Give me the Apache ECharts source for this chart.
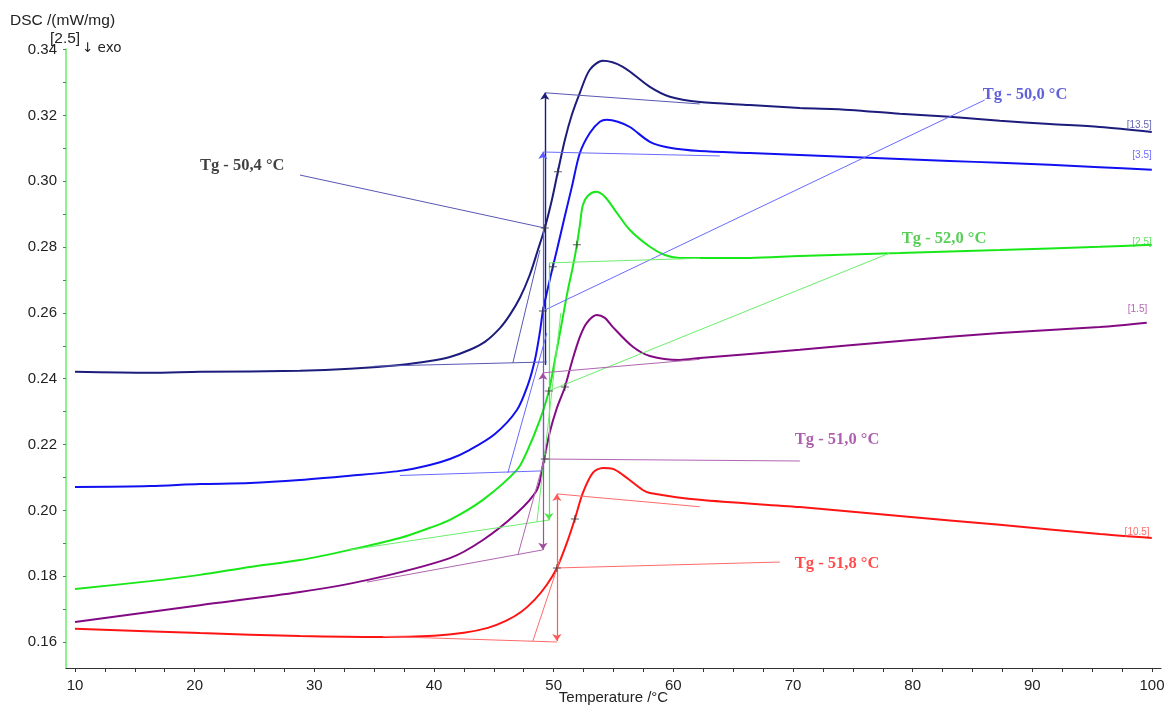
<!DOCTYPE html>
<html><head><meta charset="utf-8">
<script src="https://cdn.jsdelivr.net/npm/echarts@6/dist/echarts.min.js"></script>
<style>html,body{margin:0;padding:0;background:#fff}#c{width:1171px;height:708px}</style>
</head><body><div id="c"></div>
<script>
// ---------- axis ticks ----------
const xLabelValues = [10,20,30,40,50,60,70,80,90,100];
const xTickValues = [10,12.5,15,17.5,20,22.5,25,27.5,30,32.5,35,37.5,40,42.5,45,47.5,50,52.5,55,57.5,60,62.5,65,67.5,70,72.5,75,77.5,80,82.5,85,87.5,90,92.5,95,97.5,100];
const yLabelValues = [0.16,0.18,0.20,0.22,0.24,0.26,0.28,0.30,0.32,0.34];
const yTickValues = [0.16,0.17,0.18,0.19,0.20,0.21,0.22,0.23,0.24,0.25,0.26,0.27,0.28,0.29,0.30,0.31,0.32,0.33,0.34];

// ---------- curves (Temperature °C, DSC mW/mg) ----------
const sampleNames = ['[13.5]','[3.5]','[2.5]','[1.5]','[10.5]'];
const tNavy = [10,16.27,20.44,28.8,32.97,37.15,39.66,41.33,43,44.25,45.51,46.34,47.18,48.01,48.68,49.26,49.85,50.35,50.94,51.52,52.19,53.02,54.11,55.78,58.04,59.71,62.21,66.39,70.57,74.75,78.92,83.1,87.28,91.45,95.63,99.98];
const vNavy = [0.2421,0.2418,0.2421,0.2424,0.2430,0.2442,0.2454,0.2466,0.2488,0.2512,0.2554,0.2594,0.2646,0.2716,0.2791,0.2858,0.2943,0.3029,0.3126,0.3202,0.3269,0.3339,0.3366,0.3348,0.3287,0.3257,0.3241,0.3232,0.3223,0.3217,0.3205,0.3196,0.3184,0.3174,0.3165,0.3150];
const tBlue = [10,16.27,20.44,24.62,28.8,32.97,37.15,39.66,41.33,43,45.09,46.93,47.84,48.43,48.85,49.1,49.52,49.93,50.27,50.94,51.52,52.19,53.02,53.86,54.44,55.36,56.37,58.04,59.71,62.21,66.39,70.57,74.75,78.92,83.1,87.28,91.45,95.63,99.98];
const vBlue = [0.2071,0.2074,0.2080,0.2083,0.2092,0.2105,0.2120,0.2138,0.2156,0.2184,0.2232,0.2305,0.2381,0.2457,0.2542,0.2606,0.2676,0.2740,0.2791,0.2895,0.2983,0.3086,0.3147,0.3181,0.3187,0.3181,0.3165,0.3120,0.3102,0.3092,0.3086,0.3080,0.3074,0.3068,0.3062,0.3056,0.3050,0.3043,0.3035];
const tGreen = [10,16.27,20.44,24.62,28.8,32.97,37.15,39.66,41.33,44.09,46.93,47.76,48.85,49.6,50.18,50.77,51.19,51.6,51.94,52.19,52.44,52.86,53.53,54.28,55.28,56.37,58.04,59.29,60.54,62.21,66.39,70.57,78.92,87.28,95.63,99.98];
const vGreen = [0.1761,0.1785,0.1804,0.1828,0.1849,0.1880,0.1916,0.1947,0.1971,0.2032,0.2123,0.2178,0.2275,0.2363,0.2472,0.2588,0.2670,0.2740,0.2807,0.2867,0.2928,0.2956,0.2968,0.2953,0.2904,0.2852,0.2801,0.2776,0.2767,0.2767,0.2767,0.2773,0.2782,0.2791,0.2801,0.2807];
const tPurple = [10,20.44,28.8,34.39,41.33,44.09,46.93,48.6,49.1,49.68,50.27,50.94,51.52,52.19,52.77,53.61,54.28,54.95,56.62,58.04,60.54,62.21,70.57,78.92,87.28,95.63,99.56];
const vPurple = [0.1661,0.1712,0.1752,0.1788,0.1855,0.1910,0.1992,0.2062,0.2138,0.2238,0.2311,0.2375,0.2451,0.2527,0.2570,0.2594,0.2585,0.2557,0.2497,0.2469,0.2457,0.2463,0.2488,0.2515,0.2539,0.2557,0.2570];
const tRed = [10,20.44,28.8,35.73,40.0,42.5,44.5,46.0,47.3,48.4,49.43,50.27,51.1,51.77,52.44,53.27,54.11,54.95,55.78,57.45,58.04,62.21,70.57,78.92,87.28,95.63,99.98];
const vRed = [0.1640,0.1627,0.1618,0.1615,0.1619,0.1628,0.1643,0.1664,0.1692,0.1728,0.1774,0.1825,0.1901,0.1974,0.2053,0.2114,0.2129,0.2126,0.2108,0.2062,0.2053,0.2032,0.2010,0.1983,0.1956,0.1928,0.1916];

// ---------- Tg evaluation constructions ([x1,y1],[x2,y2]) ----------
const navyLines = {leader:[[28.8,0.3019],[49.26,0.2858]], vertical:[[49.26,0.2442],[49.26,0.3269]], upper:[[49.26,0.3269],[62.21,0.3235]], lower:[[35.0,0.2438],[49.43,0.2451]], tangent:[[46.59,0.2448],[48.85,0.2791]]};
const blueLines = {leader:[[49.1,0.2606],[86.02,0.3247]], vertical:[[49.1,0.2120],[49.1,0.3089]], upper:[[49.1,0.3089],[63.88,0.3077]], lower:[[37.15,0.2106],[49.1,0.2120]], tangent:[[46.17,0.2114],[49.43,0.2539]]};
const greenLines = {leader:[[49.6,0.2363],[78.09,0.2782]], vertical:[[49.6,0.2752],[49.6,0.1971]], upper:[[49.6,0.2752],[62.21,0.2766]], lower:[[32.97,0.1880],[49.68,0.1971]], tangent:[[48.6,0.1965],[50.6,0.2600]]};
const purpleLines = {leader:[[49.26,0.2156],[70.57,0.2150]], vertical:[[49.1,0.2418],[49.1,0.1880]], upper:[[49.1,0.2418],[62.21,0.2459]], lower:[[34.4,0.1782],[49.1,0.1880]], tangent:[[47.01,0.1864],[49.43,0.2184]]};
const redLines = {leader:[[50.27,0.1825],[68.9,0.1843]], vertical:[[50.27,0.2050],[50.27,0.1603]], upper:[[50.27,0.2050],[62.21,0.2011]], lower:[[35.73,0.1617],[50.27,0.1600]], tangent:[[48.26,0.1603],[50.52,0.1849]]};

const crossPoints = [[49.26,0.2858],[50.35,0.3029],[49.1,0.2606],[49.93,0.2740],[49.6,0.2363],[51.94,0.2807],[49.26,0.2156],[50.94,0.2375],[50.27,0.1825],[51.77,0.1974]];

const tgTexts = ['Tg - 50,4 °C','Tg - 50,0 °C','Tg - 52,0 °C','Tg - 51,0 °C','Tg - 51,8 °C'];
const tgTextPos = [[20.44,0.3046],[85.86,0.3263],[79.09,0.2825],[70.15,0.2214],[70.15,0.1837]];
const endLabelPos = [[99.98,0.3171],[99.98,0.3080],[99.98,0.2816],[99.6,0.2612],[99.8,0.1934]];

const curveColors = ['#1c1c7c','#1010f0','#18e818','#840a84','#ff1414'];
const annoColors = ['#5858b4','#6a6aff','#6cee6c','#b066b0','#ff6a6a'];
const endColors = ['#3c3c9c','#4a4aff','#3ed83e','#a040a0','#ff4a4a'];
const tgColors = ['#111111','#3a3ad0','#2ec42e','#983898','#ff2020'];
const vertColors = ['#1c1c7c','#5a5aff','#4ee84e','#a050a0','#ff5a5a'];

const curves = [[tNavy,vNavy],[tBlue,vBlue],[tGreen,vGreen],[tPurple,vPurple],[tRed,vRed]];
const annos = [navyLines,blueLines,greenLines,purpleLines,redLines];
const vertSyms = [['none','arrow'],['none','arrow'],['none','arrow'],['arrow','arrow'],['arrow','arrow']];

function seg(p, q, color, width, sym) {
  return [{coord:p, symbol:sym ? sym[0] : 'none', lineStyle:{color:color, width:width, type:'solid'}},
          {coord:q, symbol:sym ? sym[1] : 'none'}];
}

const series = curves.map((c, i) => {
  const a = annos[i];
  const ac = annoColors[i];
  return {
    type:'line', name:sampleNames[i], showSymbol:false, symbol:'none', smooth:0.3,
    data:c[0].map((t, k) => [t, c[1][k]]),
    lineStyle:{color:curveColors[i], width:2},
    z:3,
    markLine:{
      silent:true, symbolSize:7, label:{show:false}, animation:false,
      data:[
        seg(a.leader[0], a.leader[1], ac, 1),
        seg(a.vertical[0], a.vertical[1], vertColors[i], i===0?1.4:1.2, vertSyms[i]),
        seg(a.upper[0], a.upper[1], ac, 1),
        seg(a.lower[0], a.lower[1], ac, 1),
        seg(a.tangent[0], a.tangent[1], ac, 1)
      ]
    }
  };
});

series.push({
  type:'scatter', symbol:'path://M0,4.4H10V5.6H0Z M4.4,0H5.6V10H4.4Z', symbolSize:8,
  itemStyle:{color:'#333'}, data:crossPoints, z:5, silent:true
});
series.push({
  type:'scatter', symbolSize:0, silent:true, z:6,
  data:tgTextPos.map((p, i) => ({value:p, label:{show:true, position:'right', distance:0, formatter:tgTexts[i], color:tgColors[i], fontFamily:'Liberation Serif', fontWeight:'bold', fontSize:16.5}}))
});
series.push({
  type:'scatter', symbolSize:0, silent:true, z:6,
  data:endLabelPos.map((p, i) => ({value:p, label:{show:true, position:'left', distance:0, formatter:sampleNames[i], color:endColors[i], fontFamily:'Liberation Sans', fontSize:10}}))
});

const chart = echarts.init(document.getElementById('c'), null, {renderer:'canvas'});
chart.setOption({
  animation:false,
  backgroundColor:'#ffffff',
  grid:{left:66, top:49, width:1095, height:619, containLabel:false, outerBoundsMode:'none'},
  xAxis:{
    type:'value', min:9.25, max:100.75,
    name:'Temperature /°C', nameLocation:'middle', nameGap:22, nameMoveOverlap:false,
    nameTextStyle:{fontFamily:'Liberation Sans', fontSize:15, color:'#222'},
    axisLine:{lineStyle:{color:'#333', width:1.2}},
    axisTick:{customValues:xTickValues, length:4, lineStyle:{color:'#333'}},
    axisLabel:{customValues:xLabelValues, margin:10, fontFamily:'Liberation Sans', fontSize:15, color:'#222'},
    splitLine:{show:false}
  },
  yAxis:{
    type:'value', min:0.1521, max:0.3402,
    axisLine:{show:true, lineStyle:{color:'#66ee66', width:1.5}},
    axisTick:{customValues:yTickValues, length:3, lineStyle:{color:'#4a8a4a'}},
    axisLabel:{customValues:yLabelValues, margin:9, fontFamily:'Liberation Sans', fontSize:15, color:'#222', formatter:v => v.toFixed(2)},
    splitLine:{show:false}
  },
  graphic:[
    {type:'text', left:10, top:13, style:{text:'DSC /(mW/mg)', font:'15.5px "Liberation Sans"', fill:'#222'}},
    {type:'text', left:50, top:31, style:{text:'[2.5]', font:'15.5px "Liberation Sans"', fill:'#222'}},
    {type:'text', left:82, top:41, style:{text:'↓ exo', font:'13.5px "DejaVu Sans"', fill:'#222'}}
  ],
  series:series
});
</script>
</body></html>
